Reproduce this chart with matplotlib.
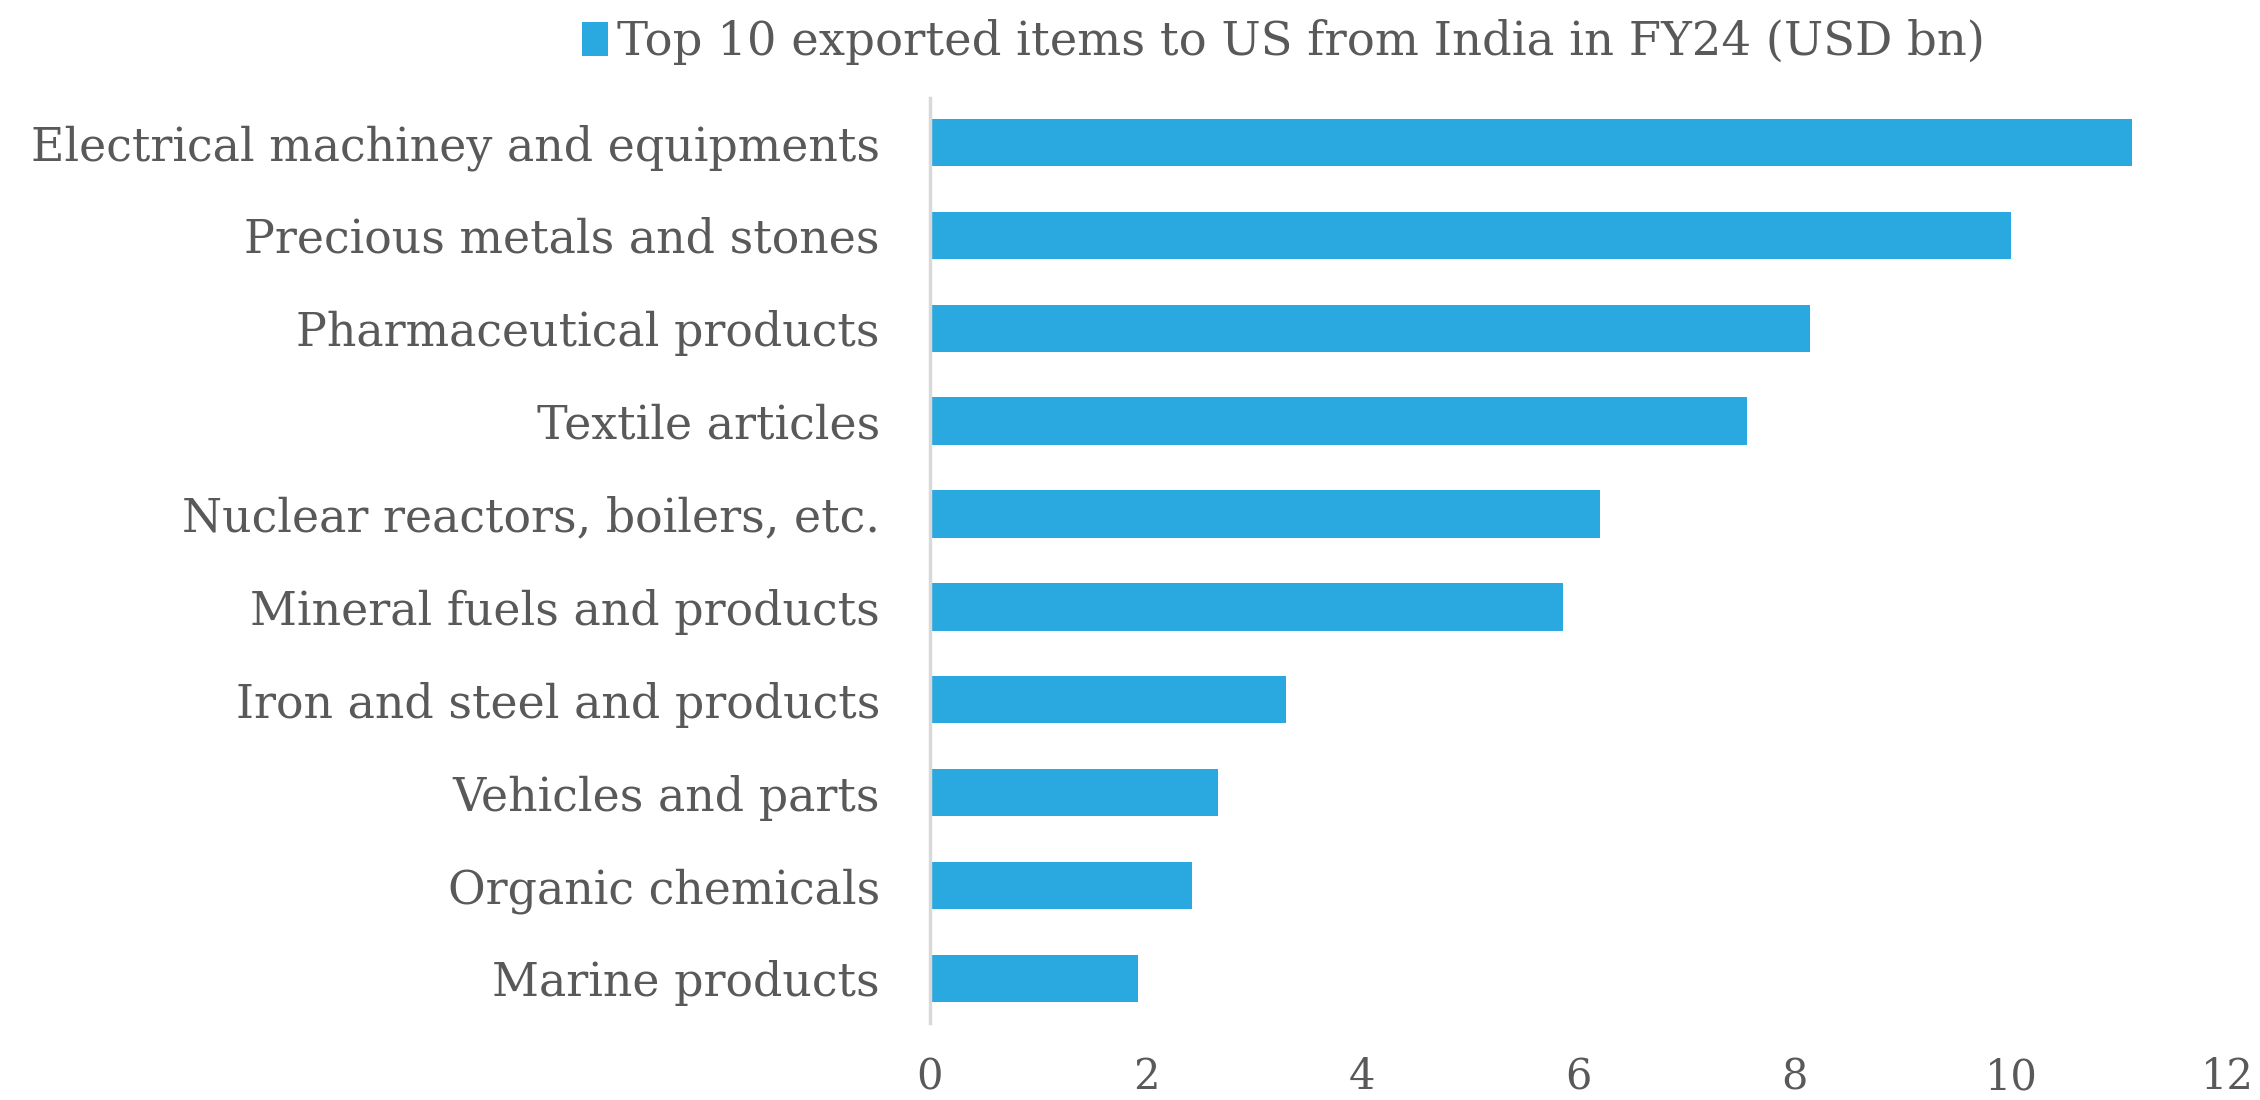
import matplotlib.pyplot as plt
from matplotlib.patches import Patch

categories = ['Electrical machiney and equipments', 'Precious metals and stones',
              'Pharmaceutical products', 'Textile articles',
              'Nuclear reactors, boilers, etc.', 'Mineral fuels and products',
              'Iron and steel and products', 'Vehicles and parts',
              'Organic chemicals', 'Marine products']
values = [11.12, 10.0, 8.14, 7.56, 6.2, 5.86, 3.29, 2.66, 2.42, 1.92]
xticks = [0, 2, 4, 6, 8, 10, 12]
series_name = 'Top 10 exported items to US from India in FY24 (USD bn)'

bar_color = '#29A9E0'
text_color = '#595959'

plt.rcParams['font.family'] = ['DejaVu Serif']

fig = plt.figure(figsize=(22.6, 11), dpi=100)
ax = fig.add_axes([0.4115, 0.07, 0.574, 0.841])

pos = list(range(len(categories)))
ax.barh(pos, values, height=0.51, color=bar_color)
ax.set_yticks(pos)
ax.set_yticklabels(categories)
ax.set_ylim(9.48, -0.48)
ax.set_xlim(0, 12)
ax.set_xticks(xticks)

for s in ['top', 'right', 'bottom']:
    ax.spines[s].set_visible(False)
ax.spines['left'].set_color('#d9d9d9')
ax.spines['left'].set_linewidth(2.5)

ax.tick_params(axis='y', length=0, pad=36, labelsize=33, labelcolor=text_color)
ax.tick_params(axis='x', length=0, pad=24, labelsize=30, labelcolor=text_color)

handle = Patch(facecolor=bar_color, edgecolor='none')
fig.legend([handle], [series_name], loc='center', bbox_to_anchor=(0.568, 0.962),
           frameon=False, fontsize=33.5, labelcolor=text_color,
           handlelength=0.55, handleheight=0.75, handletextpad=0.2)

fig.savefig('out.png', dpi=100)
